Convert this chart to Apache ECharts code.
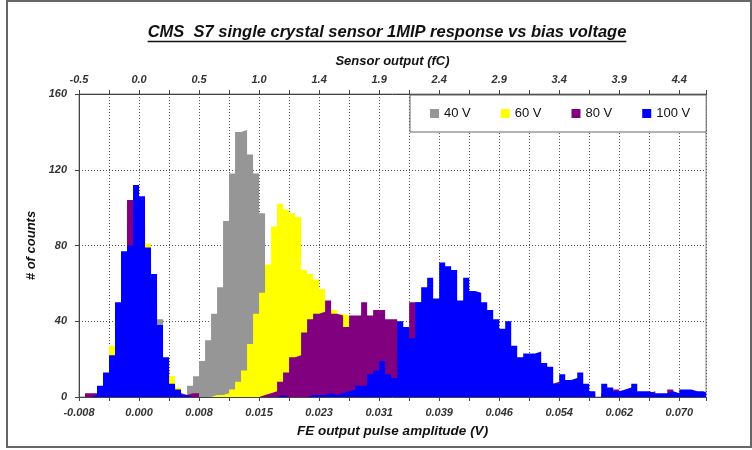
<!DOCTYPE html>
<html>
<head>
<meta charset="utf-8">
<script src="https://cdn.jsdelivr.net/npm/echarts@6/dist/echarts.min.js"></script>
<style>
  html, body { margin: 0; padding: 0; background: #fff; }
  #chart { width: 752px; height: 450px; }
</style>
</head>
<body>
<div id="chart"></div>
<script>
// histogram bins: 0.000775 V wide, first bin starts at -0.00775 V
const binStart = -0.00775;
const binWidth = 0.000775;
const tickStep = 0.003875;
const xMax = 0.0732;

// axis labels (one every second tick)
const bottomLabels = ['-0.008', '0.000', '0.008', '0.015', '0.023', '0.031', '0.039', '0.046', '0.054', '0.062', '0.070'];
const topLabels = ['-0.5', '0.0', '0.5', '1.0', '1.4', '1.9', '2.4', '2.9', '3.4', '3.9', '4.4'];

const seriesNames = ['40 V', '60 V', '80 V', '100 V'];
const seriesColors = ['#969696', '#ffff00', '#800080', '#0000ff'];

// counts per bin (105 bins)
const counts40V = [
    0, 0, 0, 3, 8, 18, 40, 70, 90, 100,
    95, 75, 60, 41, 18, 5, 2, 1, 6, 11,
    19, 30, 44, 58, 93, 118, 140, 141, 128, 118,
    97, 68, 45, 25, 12, 5, 2, 1, 0, 0,
    0, 0, 0, 0, 0, 0, 0, 0, 0, 0,
    0, 0, 0, 0, 0, 0, 0, 0, 0, 0,
    0, 0, 0, 0, 0, 0, 0, 0, 0, 0,
    0, 0, 0, 0, 0, 0, 0, 0, 0, 0,
    0, 0, 0, 0, 0, 0, 0, 0, 0, 0,
    0, 0, 0, 0, 0, 0, 0, 0, 0, 0,
    0, 0, 0, 0, 0
];
const counts60V = [
    0, 0, 1, 4, 10, 27, 45, 70, 80, 95,
    100, 81, 60, 30, 18, 11, 5, 1, 0, 0,
    0, 0, 1, 1, 2, 4, 8, 14, 28, 44,
    55, 70, 90, 102, 99, 97, 95, 67, 65, 62,
    57, 50, 46, 44, 43, 36, 30, 24, 18, 12,
    8, 5, 3, 2, 1, 0, 0, 0, 0, 0,
    0, 0, 0, 0, 0, 0, 0, 0, 0, 0,
    0, 0, 0, 0, 0, 0, 0, 0, 0, 0,
    0, 0, 0, 0, 0, 0, 0, 0, 0, 0,
    0, 0, 0, 0, 0, 0, 0, 0, 0, 0,
    0, 0, 0, 0, 0
];
const counts80V = [
    0, 2, 2, 5, 12, 20, 48, 75, 104, 95,
    90, 70, 50, 30, 15, 6, 2, 1, 2, 2,
    0, 0, 0, 0, 0, 0, 0, 0, 0, 0,
    1, 2, 3, 8, 13, 21, 22, 34, 41, 44,
    45, 51, 44, 43, 37, 43, 43, 50, 43, 46,
    46, 41, 41, 39, 36, 50, 50, 45, 42, 40,
    38, 36, 34, 30, 28, 26, 24, 22, 20, 18,
    16, 14, 12, 11, 10, 9, 8, 8, 7, 8,
    5, 4, 4, 3, 3, 2, 0, 2, 2, 4,
    2, 2, 2, 2, 2, 3, 1, 1, 4, 1,
    1, 1, 1, 1, 1
];
const counts100V = [
    0, 0, 1, 6, 13, 22, 50, 77, 80, 112,
    106, 79, 65, 38, 21, 7, 4, 1, 0, 0,
    0, 0, 0, 0, 0, 0, 0, 0, 0, 0,
    0, 0, 0, 1, 0, 0, 0, 0, 1, 1,
    1, 2, 1, 2, 3, 4, 6, 6, 12, 14,
    19, 12, 10, 40, 37, 31, 50, 58, 63, 52,
    71, 69, 67, 51, 63, 56, 55, 50, 46, 41,
    36, 40, 27, 21, 23, 23, 24, 18, 16, 7,
    12, 9, 10, 13, 7, 3, 0, 7, 5, 3,
    4, 5, 7, 3, 3, 2, 2, 2, 3, 2,
    4, 4, 3, 3, 2
];
const allCounts = [counts40V, counts60V, counts80V, counts100V];

const fontFamily = "'Liberation Sans', Arial, sans-serif";
const titleText = 'CMS  S7 single crystal sensor 1MIP response vs bias voltage';
const titleFont = 'italic bold 16.5px ' + fontFamily;

// bin left edges -> step points (plus closing edge)
function toSteps(values) {
    const pts = values.map((v, k) => [binStart + k * binWidth, v]);
    pts.push([binStart + values.length * binWidth, values[values.length - 1]]);
    return pts;
}

function labelFormatter(labels) {
    return function(value) {
        const i = Math.round((value - binStart) / tickStep);
        if (i % 2 !== 0) return '';
        return labels[i / 2] !== undefined ? labels[i / 2] : '';
    };
}

const tickLabelStyle = {
    fontSize: 11,
    fontStyle: 'italic',
    fontWeight: 'bold',
    fontFamily: fontFamily,
    color: '#333'
};
function nameStyle(size) {
    return {
        fontSize: size,
        fontStyle: 'italic',
        fontWeight: 'bold',
        fontFamily: fontFamily,
        color: '#111'
    };
}

// measure title for the underline
const ctx = document.createElement('canvas').getContext('2d');
ctx.font = titleFont;
const titleW = ctx.measureText(titleText).width;
const titleX = 387;

const myChart = echarts.init(document.getElementById('chart'));
const option = {
    animation: false,
    backgroundColor: '#fff',
    grid: {
        left: 79,
        right: 46,
        top: 94,
        bottom: 53,
        show: true,
        borderColor: '#888',
        borderWidth: 1,
        containLabel: false,
        outerBoundsMode: 'none'
    },
    legend: {
        data: seriesNames,
        left: 410,
        top: 95,
        icon: 'rect',
        itemWidth: 9,
        itemHeight: 9,
        itemGap: 30,
        padding: [12, 16, 12, 20],
        backgroundColor: '#fff',
        borderColor: '#666',
        borderWidth: 1,
        textStyle: { fontSize: 13, color: '#111', fontFamily: fontFamily }
    },
    xAxis: [
        {
            type: 'value',
            position: 'bottom',
            min: binStart,
            max: xMax,
            interval: tickStep,
            name: 'FE output pulse amplitude (V)',
            nameLocation: 'middle',
            nameGap: 27,
            nameTextStyle: nameStyle(13.5),
            axisLine: { lineStyle: { color: '#444' } },
            axisTick: { show: true, length: 4, lineStyle: { color: '#444' } },
            axisLabel: Object.assign({ formatter: labelFormatter(bottomLabels), margin: 10 }, tickLabelStyle),
            splitLine: { show: true, lineStyle: { type: [1, 2], color: '#555' } }
        },
        {
            type: 'value',
            position: 'top',
            min: binStart,
            max: xMax,
            interval: tickStep,
            name: 'Sensor output (fC)',
            nameLocation: 'middle',
            nameGap: 26,
            nameTextStyle: nameStyle(13),
            axisLine: { lineStyle: { color: '#444' } },
            axisTick: { show: true, length: 4, lineStyle: { color: '#444' } },
            axisLabel: Object.assign({ formatter: labelFormatter(topLabels), margin: 9 }, tickLabelStyle),
            splitLine: { show: false }
        }
    ],
    yAxis: {
        type: 'value',
        min: 0,
        max: 160,
        interval: 40,
        name: '# of counts',
        nameLocation: 'middle',
        nameGap: 35,
        nameRotate: 90,
        nameTextStyle: nameStyle(13),
        axisLine: { show: true, onZero: false, lineStyle: { color: '#444' } },
        axisTick: { show: true, length: 4, lineStyle: { color: '#444' } },
        axisLabel: Object.assign({ margin: 12 }, tickLabelStyle),
        splitLine: { show: true, lineStyle: { type: [1, 2], color: '#555' } }
    },
    series: seriesNames.map((name, i) => ({
        name: name,
        type: 'line',
        xAxisIndex: 0,
        step: 'end',
        symbol: 'none',
        data: toSteps(allCounts[i]),
        lineStyle: { width: 0, opacity: 0 },
        itemStyle: { color: seriesColors[i] },
        areaStyle: { color: seriesColors[i], opacity: 1 }
    })),
    graphic: [
        {
            type: 'rect',
            silent: true,
            shape: { x: 7, y: 1, width: 744, height: 446 },
            style: { fill: 'none', stroke: '#666', lineWidth: 2 }
        },
        {
            type: 'text',
            x: titleX,
            y: 32,
            style: {
                text: titleText,
                font: titleFont,
                fill: '#111',
                align: 'center',
                verticalAlign: 'middle'
            }
        },
        {
            type: 'line',
            shape: { x1: titleX - titleW / 2, y1: 41.5, x2: titleX + titleW / 2, y2: 41.5 },
            style: { stroke: '#111', lineWidth: 1.5 }
        }
    ]
};
myChart.setOption(option);
</script>
</body>
</html>
